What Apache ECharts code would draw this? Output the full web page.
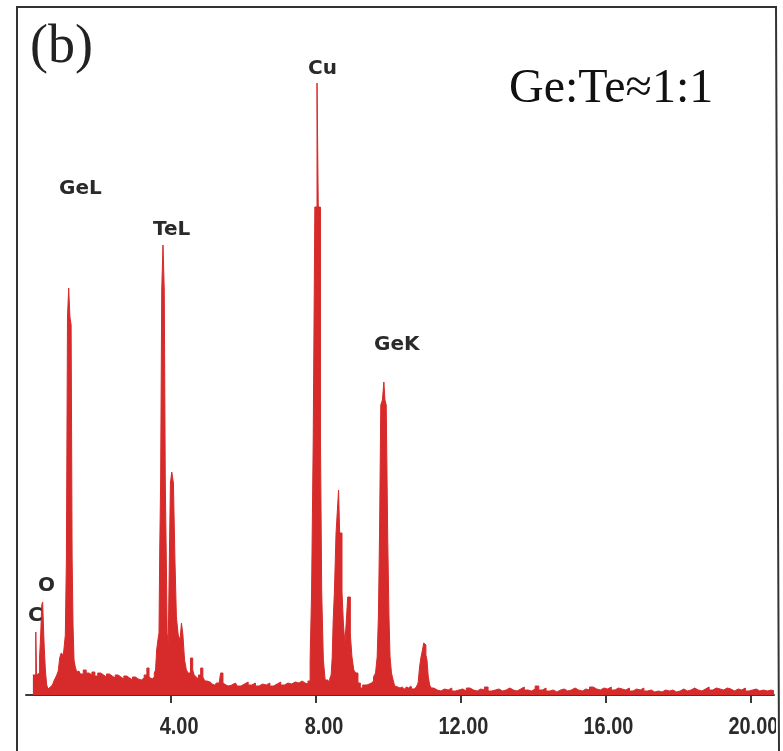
<!DOCTYPE html>
<html>
<head>
<meta charset="utf-8">
<script src="https://cdn.jsdelivr.net/npm/echarts@6/dist/echarts.min.js"></script>
<style>
html, body { margin: 0; padding: 0; background: #fff; }
#main { width: 783px; height: 751px; }
</style>
</head>
<body>
<div id="main"></div>
<script>
// EDS spectrum, [energy keV, counts]
var lowRegion = [
  [0.19,20],[0.23,22],[0.26,20],[0.28,63],[0.30,20],[0.33,21],[0.36,22],[0.39,38],
  [0.42,60],[0.45,90],[0.47,93],[0.49,70],[0.52,46],[0.55,25],[0.59,10],[0.63,6],
  [0.67,8],[0.71,10],[0.75,12],[0.79,14],[0.83,17],[0.87,20],[0.91,24],[0.95,37],
  [0.99,42],[1.03,40],[1.07,47],[1.10,60],[1.13,138],[1.16,378],[1.195,407],[1.23,378],
  [1.26,370],[1.285,138],[1.31,70],[1.34,35],[1.38,28],[1.42,23],
  [1.46,24],[1.54,21],[1.62,25],[1.70,22],[1.78,20],[1.86,23],[1.94,19],[2.02,22],
  [2.10,20],[2.18,18],[2.26,21],[2.34,19],[2.42,17],[2.50,20],[2.58,18],[2.66,16],
  [2.74,19],[2.82,17],[2.90,15],[2.98,18],[3.06,16],[3.14,15],[3.22,17],[3.30,20],
  [3.37,27],[3.42,18],[3.48,16]
];
var telRegion = [
  [3.52,18],[3.56,22],[3.59,25],[3.62,45],[3.66,55],[3.68,62],[3.70,145],[3.73,213],
  [3.76,405],[3.80,450],[3.83,405],[3.857,213],[3.88,145],[3.91,62],[3.94,50],[3.97,135],
  [4.00,212],[4.045,223],[4.09,212],[4.13,135],[4.17,78],[4.23,60],[4.27,55],[4.31,72],
  [4.35,60],[4.40,35],[4.45,25],[4.50,22],[4.58,37],[4.62,25],[4.66,20],[4.70,18],
  [4.74,16],[4.78,20],[4.86,27],[4.90,18],[4.97,14],[5.02,12],[5.08,13],[5.14,11],
  [5.20,10],[5.26,12],[5.33,12],[5.41,22],[5.46,12],[5.52,10],[5.58,9],
  [5.68,10],[5.78,12],[5.88,9],[5.98,11],[6.08,13],[6.18,10],[6.28,12],[6.38,9],
  [6.48,11],[6.58,10],[6.68,12],[6.78,9],[6.88,11],[6.98,13],[7.08,10],[7.18,12],
  [7.28,11],[7.38,13],[7.48,12],[7.58,14],[7.66,12],[7.74,11]
];
var cuRegion = [
  [7.82,14],[7.86,35],[7.90,102],[7.95,255],[7.99,488],[8.01,488],[8.05,612],[8.08,488],
  [8.11,488],[8.14,255],[8.18,102],[8.23,35],[8.28,15],[8.32,15],[8.36,13],[8.40,16],
  [8.44,20],[8.46,38],[8.49,73],[8.53,103],[8.58,162],[8.61,162],[8.64,205],[8.67,162],
  [8.70,162],[8.74,103],[8.78,70],[8.82,52],[8.86,75],[8.895,98],[8.93,98],[8.97,60],
  [9.02,38],[9.07,25],[9.13,22],[9.19,12],[9.26,7],[9.32,10],[9.38,10]
];
var gekRegion = [
  [9.44,11],[9.50,12],[9.56,14],[9.62,18],[9.67,22],[9.71,38],[9.74,80],[9.77,160],
  [9.81,290],[9.86,295],[9.89,313],[9.92,295],[9.96,290],[10.00,160],[10.03,80],[10.06,38],
  [10.11,22],[10.15,15],[10.20,9],[10.26,8],[10.32,7],[10.38,8],[10.44,6],[10.50,8],
  [10.56,7],[10.62,9],[10.68,6],[10.74,8],[10.80,9],[10.84,12],[10.88,28],[10.92,38],
  [10.96,45],[10.99,52],[11.02,50],[11.05,40],[11.08,35],[11.12,18],[11.16,10],[11.20,7]
];
var tailRegion = [
  [11.3,5],[11.4,4],[11.5,6],[11.6,5],[11.7,7],[11.8,4],[11.9,5],[12.0,6],[12.1,4],[12.2,7],
  [12.3,5],[12.4,4],[12.5,6],[12.6,5],[12.7,8],[12.8,4],[12.9,5],[13.0,6],[13.1,4],[13.2,5],
  [13.3,7],[13.4,5],[13.5,4],[13.6,6],[13.7,8],[13.8,5],[13.9,4],[14.0,6],[14.1,9],[14.2,5],
  [14.3,7],[14.4,4],[14.5,5],[14.6,3],[14.7,5],[14.8,6],[14.9,4],[15.0,5],[15.1,7],[15.2,5],
  [15.3,4],[15.4,6],[15.5,5],[15.6,8],[15.7,6],[15.8,5],[15.9,7],[16.0,6],[16.1,8],[16.2,5],
  [16.3,7],[16.4,6],[16.5,5],[16.6,7],[16.7,4],[16.8,6],[16.9,5],[17.0,7],[17.1,4],[17.2,5],
  [17.3,3],[17.4,4],[17.5,3],[17.6,5],[17.7,4],[17.8,5],[17.9,3],[18.0,4],[18.1,6],[18.2,4],
  [18.3,5],[18.4,7],[18.5,5],[18.6,4],[18.7,6],[18.8,8],[18.9,5],[19.0,7],[19.1,6],[19.2,5],
  [19.3,7],[19.4,6],[19.5,4],[19.6,6],[19.7,5],[19.8,7],[19.9,4],[20.0,5],[20.1,6],[20.2,4],
  [20.3,5],[20.4,4],[20.5,5],[20.64,4]
];
var tickValues = [4, 8, 12, 16, 20];

var spectrum = lowRegion.concat(telRegion, cuRegion, gekRegion, tailRegion);

var red = '#d72a2a';
var ink = '#2a2a2a';
var labelFont = 'bold 20px "DejaVu Sans", sans-serif';

var chart = echarts.init(document.getElementById('main'));
var option = {
  animation: false,
  backgroundColor: '#fff',
  grid: { left: 26, right: 9, top: 7, bottom: 56, outerBoundsMode: 'none' },
  xAxis: [{
    type: 'value',
    position: 'bottom',
    min: 0,
    max: 20.64,
    offset: 8,
    axisLine: { lineStyle: { color: '#3a3a3a', width: 2 } },
    axisTick: { customValues: tickValues, length: 5, lineStyle: { color: '#3a3a3a', width: 2 } },
    axisLabel: { show: false },
    splitLine: { show: false }
  }, {
    // upper half of the tick marks
    type: 'value',
    position: 'bottom',
    min: 0,
    max: 20.64,
    offset: 8,
    axisLine: { show: false },
    axisTick: { customValues: tickValues, inside: true, length: 3, lineStyle: { color: '#3a3a3a', width: 2 } },
    axisLabel: { show: false },
    splitLine: { show: false }
  }],
  yAxis: { type: 'value', min: 0, max: 688, show: false },
  series: [{
    type: 'line',
    data: spectrum,
    step: 'middle',
    symbol: 'none',
    lineStyle: { color: red, width: 1 },
    areaStyle: { color: red, opacity: 1 }
  }],
  graphic: [
    { type: 'text', z: 101, x: 30, y: 48, style: { text: '(b)', font: '54px "Liberation Serif", serif', fill: '#222', verticalAlign: 'middle' } },
    { type: 'text', z: 101, x: 509, y: 89, style: { text: 'Ge:Te≈1:1', font: '48px "Liberation Serif", serif', fill: '#111', verticalAlign: 'middle' } },
    { type: 'text', z: 101, x: 59, y: 189, style: { text: 'GeL', font: labelFont, fill: ink, verticalAlign: 'middle' } },
    { type: 'text', z: 101, x: 153, y: 230, style: { text: 'TeL', font: labelFont, fill: ink, verticalAlign: 'middle' } },
    { type: 'text', z: 101, x: 308, y: 69, style: { text: 'Cu', font: labelFont, fill: ink, verticalAlign: 'middle' } },
    { type: 'text', z: 101, x: 374, y: 345, style: { text: 'GeK', font: labelFont, fill: ink, verticalAlign: 'middle' } },
    { type: 'text', z: 101, x: 38, y: 586, style: { text: 'O', font: labelFont, fill: ink, verticalAlign: 'middle' } },
    { type: 'text', z: 101, x: 28, y: 616, style: { text: 'C', font: labelFont, fill: ink, verticalAlign: 'middle' } }
  ]
};
chart.setOption(option);

// narrow bold tick labels, right-aligned a little past each tick as in the instrument printout
var tickLabels = tickValues.map(function (v) {
  return {
    type: 'text', z: 99,
    x: chart.convertToPixel({ xAxisIndex: 0 }, v) + 27.5, y: 727,
    scaleX: 0.83,
    style: { text: v.toFixed(2), font: 'bold 24px "Liberation Sans", sans-serif', fill: ink, align: 'right', verticalAlign: 'middle' }
  };
});
// the frame clips the last label on the right
tickLabels.push({ type: 'rect', z: 100, shape: { x: 776, y: 700, width: 7, height: 51 }, style: { fill: '#fff' } });
tickLabels.push({ type: 'polyline', z: 101, shape: { points: [[17, 751], [17, 7], [776, 7], [779, 751]] },
  style: { stroke: '#333', lineWidth: 2, fill: null } });
chart.setOption({ graphic: option.graphic.concat(tickLabels) });
</script>
</body>
</html>
